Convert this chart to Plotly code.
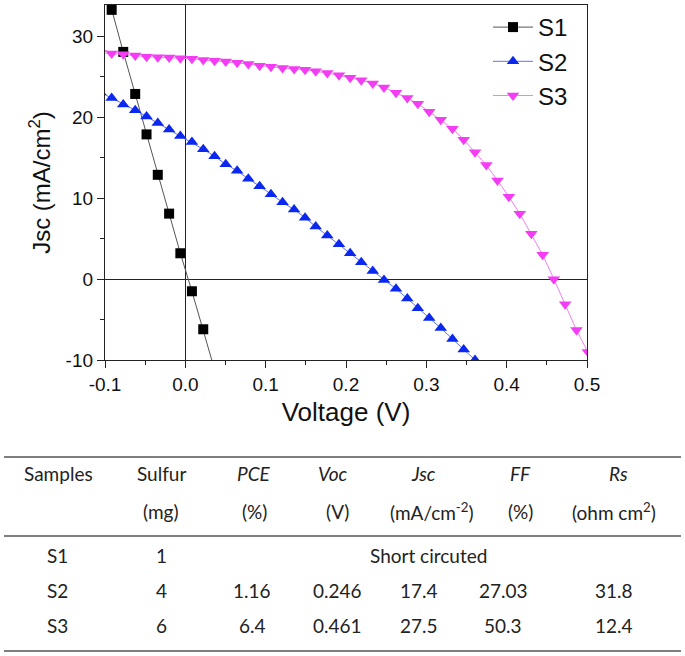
import plotly.graph_objects as go

# ---------------- data ----------------
voltage = [-0.1058, -0.0917, -0.0773, -0.0624, -0.0483, -0.0343, -0.0202, -0.0062,
           0.0082, 0.0223, 0.0364, 0.0503, 0.0645, 0.0784, 0.0925, 0.1066, 0.1210,
           0.1354, 0.1490, 0.1623, 0.1767, 0.1912, 0.2052, 0.2190, 0.2333, 0.2473,
           0.2622, 0.2763, 0.2894, 0.3036, 0.3180, 0.3325, 0.3465, 0.3606, 0.3747,
           0.3886, 0.4027, 0.4163, 0.4307, 0.4448, 0.4588, 0.4728, 0.4869, 0.5010]

s1_jsc = [38.5, 33.3, 28.1, 22.9, 17.9, 12.9, 8.1, 3.2, -1.5, -6.2, -11.2]

s2_jsc = [23.1, 22.4, 21.6, 20.9, 20.1, 19.3, 18.5, 17.7, 16.95, 16.05, 15.2, 14.2,
          13.4, 12.4, 11.5, 10.5, 9.5, 8.6, 7.6, 6.5, 5.4, 4.3, 3.2, 2.1, 1.0, -0.1,
          -1.2, -2.4, -3.6, -4.8, -6.05, -7.4, -8.7, -10.0, -11.3]

s3_jsc = [28.0, 27.9, 27.8, 27.65, 27.5, 27.45, 27.4, 27.3, 27.25, 27.1, 27.0, 26.9,
          26.75, 26.6, 26.4, 26.25, 26.1, 26.0, 25.9, 25.7, 25.5, 25.2, 24.9, 24.6,
          24.2, 23.7, 23.05, 22.4, 21.7, 20.7, 19.7, 18.6, 17.25, 15.7, 14.1, 12.2,
          10.2, 8.1, 5.6, 3.0, 0.0, -3.1, -6.3, -9.0]

series_names = ["S1", "S2", "S3"]

x_tickvals = [-0.1, 0.0, 0.1, 0.2, 0.3, 0.4, 0.5]
x_ticktext = ["-0.1", "0.0", "0.1", "0.2", "0.3", "0.4", "0.5"]
y_tickvals = [-10, 0, 10, 20, 30]
y_ticktext = ["-10", "0", "10", "20", "30"]

# table contents
table_header1 = ["Samples", "Sulfur", "<i>PCE</i>", "<i>Voc</i>", "<i>Jsc</i>", "<i>FF</i>", "<i>Rs</i>"]
table_header2 = ["", "(mg)", "(%)", "(V)", "(mA/cm<sup>-2</sup>)", "(%)", "(ohm cm<sup>2</sup>)"]
samples = ["S1", "S2", "S3"]
sulfur_mg = ["1", "4", "6"]
pce = ["", "1.16", "6.4"]
voc = ["", "0.246", "0.461"]
jsc = ["", "17.4", "27.5"]
ff = ["", "27.03", "50.3"]
rs = ["", "31.8", "12.4"]
s1_note = "Short circuted"

# ---------------- figure ----------------
W, H = 685, 656
ML, MR, MT, MB = 105, 98, 5, 296
PW, PH = W - ML - MR, H - MT - MB


def px(x):
    return (x - ML) / PW


def py(y):
    return (H - MB - y) / PH


fig = go.Figure()

fig.add_trace(go.Scatter(
    x=voltage[:len(s1_jsc)], y=s1_jsc, name=series_names[0], mode="lines+markers",
    line=dict(color="#555555", width=1),
    marker=dict(symbol="square", size=10, color="black")))
fig.add_trace(go.Scatter(
    x=voltage[:len(s2_jsc)], y=s2_jsc, name=series_names[1], mode="lines+markers",
    line=dict(color="#6070f0", width=1),
    marker=dict(symbol="triangle-up", size=11, color="#0a28f0")))
fig.add_trace(go.Scatter(
    x=voltage[:len(s3_jsc)], y=s3_jsc, name=series_names[2], mode="lines+markers",
    line=dict(color="#f080f0", width=1),
    marker=dict(symbol="triangle-down", size=11, color="#f53cf5")))

axis_font = dict(family="Liberation Sans, Arial, sans-serif", size=19, color="#111111")

fig.update_xaxes(
    range=[-0.1, 0.5], tickmode="array", tickvals=x_tickvals, ticktext=x_ticktext,
    showline=True, linecolor="#222222", linewidth=1.3, mirror=True,
    ticks="outside", ticklen=7, tickwidth=1.2, tickcolor="#222222",
    minor=dict(dtick=0.05, tick0=0, ticks="outside", ticklen=4, tickwidth=1, tickcolor="#222222", showgrid=False),
    showgrid=False, zeroline=True, zerolinecolor="#222222", zerolinewidth=1.3,
    tickfont=axis_font,
    title=dict(text="Voltage (V)", font=dict(family="Liberation Sans, Arial, sans-serif", size=26, color="#111111"), standoff=8),
)
fig.update_yaxes(
    range=[-10, 33.9], tickmode="array", tickvals=y_tickvals, ticktext=y_ticktext,
    showline=True, linecolor="#222222", linewidth=1.3, mirror=True,
    ticks="outside", ticklen=7, tickwidth=1.2, tickcolor="#222222",
    minor=dict(dtick=5, tick0=0, ticks="outside", ticklen=4, tickwidth=1, tickcolor="#222222", showgrid=False),
    showgrid=False, zeroline=True, zerolinecolor="#222222", zerolinewidth=1.3,
    tickfont=axis_font,
    title=dict(text="Jsc (mA/cm<sup>2</sup>)", font=dict(family="Liberation Sans, Arial, sans-serif", size=24, color="#111111"), standoff=8),
)

fig.update_layout(
    width=W, height=H,
    margin=dict(l=ML, r=MR, t=MT, b=MB),
    paper_bgcolor="white", plot_bgcolor="white",
    showlegend=True,
    legend=dict(x=px(488), y=py(5), xanchor="left", yanchor="top",
                font=dict(family="Liberation Sans, Arial, sans-serif", size=24, color="#111111"),
                bgcolor="rgba(0,0,0,0)", tracegroupgap=0, itemwidth=40),
)

# ---------------- table ----------------
tfont = dict(family="Lato, Open Sans, sans-serif", size=19, color="#222222")
col_x_h1 = [58, 161, 254, 333, 423, 520, 618]
col_x_h2 = [58, 161, 254, 337, 432, 520, 614]
col_x_row = [57, 161, 252, 337, 419, 503, 614]
row_y = [555, 590, 625]


def add_text(x, y, text):
    fig.add_annotation(x=px(x), y=py(y), xref="paper", yref="paper", text=text,
                       showarrow=False, font=tfont, xanchor="center", yanchor="middle")


for cx, t in zip(col_x_h1, table_header1):
    add_text(cx, 473, t)
for cx, t in zip(col_x_h2, table_header2):
    if t:
        add_text(cx, 512, t)

for i, name in enumerate(samples):
    vals = [name, sulfur_mg[i], pce[i], voc[i], jsc[i], ff[i], rs[i]]
    for cx, t in zip(col_x_row, vals):
        if t:
            add_text(cx, row_y[i], t)
add_text(428, row_y[0], s1_note)

for ly in [457, 536, 651]:
    fig.add_shape(type="line", xref="paper", yref="paper",
                  x0=px(4), x1=px(681), y0=py(ly), y1=py(ly),
                  line=dict(color="#555555", width=1.5))

fig.write_html("out.html", config={"displayModeBar": False},
               post_script="document.body.style.margin='0';document.body.style.padding='0';")
